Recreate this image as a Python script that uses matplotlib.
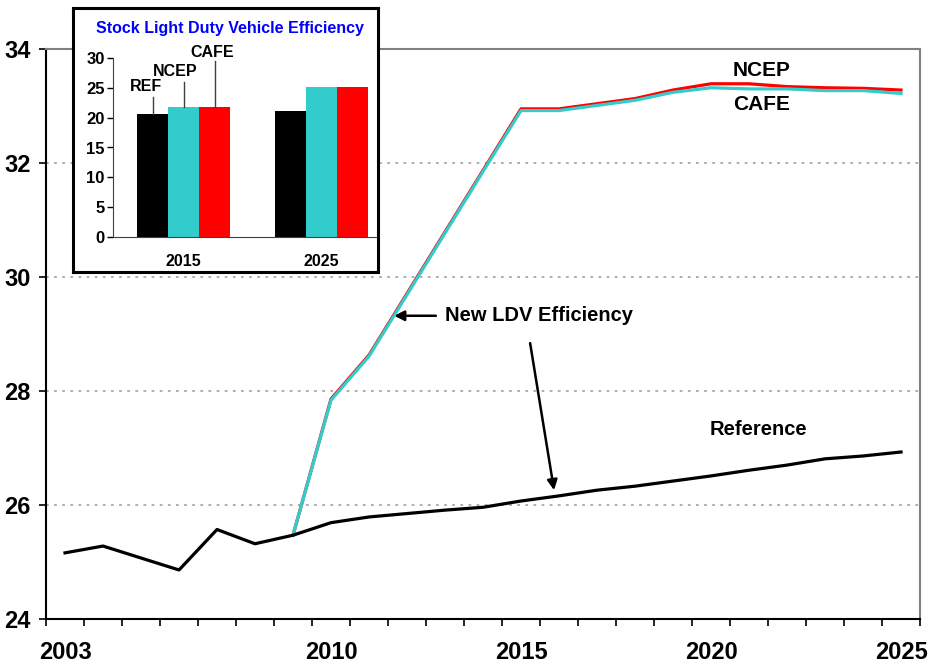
import matplotlib
matplotlib.use('Agg')
import matplotlib.pyplot as plt
import numpy as np

plt.rcParams['font.family'] = ['Liberation Sans', 'DejaVu Sans']
plt.rcParams['font.weight'] = 'bold'

# main chart: new light duty vehicle efficiency (mpg)
years = np.arange(2003, 2026)
reference = [25.16, 25.28, 25.07, 24.86, 25.57, 25.32, 25.47, 25.69, 25.79, 25.85,
             25.91, 25.96, 26.07, 26.16, 26.26, 26.33, 26.42, 26.51, 26.61, 26.70,
             26.81, 26.86, 26.93]
policy_years = np.arange(2009, 2026)
ncep = [25.47, 27.86, 28.63, 29.71, 30.79, 31.87, 32.95, 32.95, 33.04, 33.13,
        33.28, 33.39, 33.39, 33.34, 33.32, 33.31, 33.28]
cafe = [25.47, 27.84, 28.61, 29.69, 30.77, 31.85, 32.92, 32.92, 33.01, 33.10,
        33.24, 33.32, 33.30, 33.30, 33.27, 33.27, 33.22]
year_labels = [2003, 2010, 2015, 2020, 2025]

# inset: stock light duty vehicle efficiency
stock_years = ['2015', '2025']
stock_ref = [20.6, 21.1]
stock_ncep = [21.8, 25.1]
stock_cafe = [21.8, 25.1]

CYAN = '#33CCCC'
RED = '#FF0000'
GRAY = '#808080'

fig = plt.figure(figsize=(9.32, 6.66), dpi=100)
ax = fig.add_axes([46 / 932, 47 / 666, 874 / 932, 570 / 666])

ax.plot(policy_years, ncep, color=RED, lw=2.3, zorder=3)
ax.plot(policy_years, cafe, color=CYAN, lw=2.3, zorder=4)
ax.plot(years, reference, color='black', lw=2.3, zorder=5)

ax.set_xlim(2002.5, 2025.5)
ax.set_ylim(24, 34)
ax.set_yticks(np.arange(24, 35, 2))
ax.set_xticks(year_labels)
ax.set_xticklabels([str(y) for y in year_labels])
ax.set_xticks(np.arange(2002.5, 2026, 1), minor=True)
ax.tick_params(axis='x', which='major', length=0, pad=16, labelsize=17)
ax.tick_params(axis='x', which='minor', length=5, width=1.2, direction='out')
ax.tick_params(axis='y', which='major', length=5, width=1.2, pad=6, labelsize=17)
ax.yaxis.grid(True, linestyle=(0, (1.5, 3)), color='#A8A8A8', lw=1.3)
ax.set_axisbelow(True)
for side in ['left', 'bottom']:
    ax.spines[side].set_linewidth(1.5)
for side in ['top', 'right']:
    ax.spines[side].set_color(GRAY)
    ax.spines[side].set_linewidth(1.5)

ax.text(2021.32, 33.62, 'NCEP', fontsize=15, ha='center', va='center')
ax.text(2021.32, 33.03, 'CAFE', fontsize=15, ha='center', va='center')
ax.text(2021.24, 27.32, 'Reference', fontsize=14.5, ha='center', va='center')
ax.text(2013.0, 29.32, 'New LDV Efficiency', fontsize=14.5, ha='left', va='center')
arrow = dict(arrowstyle='-|>,head_length=0.6,head_width=0.3', color='black', lw=1.8,
             shrinkA=0, shrinkB=0)
ax.annotate('', xy=(2011.66, 29.32), xytext=(2012.76, 29.32), arrowprops=arrow)
ax.annotate('', xy=(2015.87, 26.26), xytext=(2015.24, 28.84), arrowprops=arrow)

# inset frame
frame = fig.add_axes([73 / 932, 1 - 272 / 666, 305 / 932, 264 / 666])
frame.set_xticks([])
frame.set_yticks([])
for s in frame.spines.values():
    s.set_linewidth(2.2)
frame.set_zorder(5)
fig.text(229.5 / 932, 1 - 28 / 666, 'Stock Light Duty Vehicle Efficiency',
         color='#0000FF', fontsize=11.5, ha='center', va='center', zorder=10)

bx = fig.add_axes([113 / 932, 1 - 237 / 666, 263 / 932, 179 / 666])
bx.set_zorder(6)
bx.patch.set_alpha(0)
w = 0.2255
pos = np.arange(len(stock_years))
bx.bar(pos - w, stock_ref, w, color='black')
bx.bar(pos, stock_ncep, w, color=CYAN)
bx.bar(pos + w, stock_cafe, w, color=RED)
bx.set_xlim(-0.513, 1.4)
bx.set_ylim(0, 30)
bx.set_yticks(np.arange(0, 31, 5))
bx.set_xticks(pos)
bx.set_xticklabels(stock_years)
bx.tick_params(axis='x', length=0, pad=12, labelsize=11.5)
bx.tick_params(axis='y', length=4, width=1, pad=2, labelsize=12)
bx.spines['top'].set_visible(False)
bx.spines['right'].set_visible(False)
bx.spines['left'].set_color('#404040')
bx.spines['bottom'].set_color('#404040')

# leader lines for inset bar labels
leaders = [('REF', -w, stock_ref[0], 23.46, -0.273, 25.3),
           ('NCEP', 0, stock_ncep[0], 25.98, -0.062, 27.82),
           ('CAFE', w, stock_cafe[0], 29.5, 0.207, 31.0)]
for name, lx, y0, y1, tx, ty in leaders:
    bx.plot([lx, lx], [y0, y1], color='#404040', lw=1, clip_on=False)
    bx.text(tx, ty, name, fontsize=11.5, ha='center', va='center', clip_on=False)

fig.savefig('out.png', dpi=100)
